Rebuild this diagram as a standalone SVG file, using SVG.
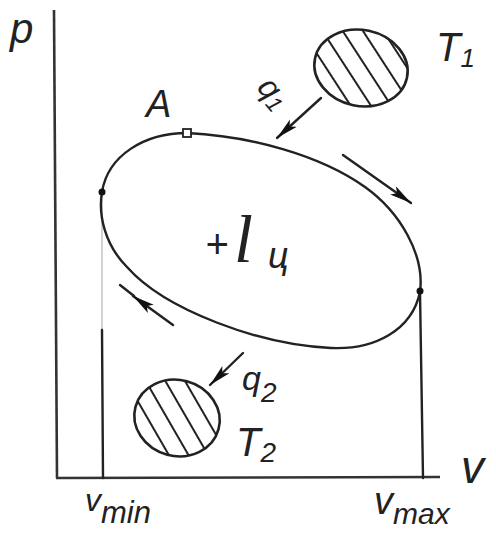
<svg xmlns="http://www.w3.org/2000/svg" width="496" height="535" viewBox="0 0 496 535">
<style>
.ln{fill:none;stroke:#222;stroke-width:2.4;stroke-linecap:round}
.ax{fill:none;stroke:#333;stroke-width:2.6}
.t{font-family:"Liberation Sans",sans-serif;font-style:italic;fill:#222}
.res{fill:url(#hatch);stroke:#222;stroke-width:2.6}
.dot{fill:#111}
</style>
<defs>
<pattern id="hatch" patternUnits="userSpaceOnUse" width="17" height="17" patternTransform="rotate(-45)">
<line x1="8" y1="0" x2="8" y2="17" stroke="#222" stroke-width="2"/>
</pattern>
<marker id="ah" markerUnits="userSpaceOnUse" markerWidth="24" markerHeight="12" refX="22" refY="5" orient="auto">
<path d="M0,0 L22,5 L0,10 L5,5 z" fill="#111"/>
</marker>
</defs>
<rect width="496" height="535" fill="#fff"/>

<g id="axes">
<line class="ax" x1="54" y1="10" x2="57" y2="478"/>
<line class="ax" x1="56" y1="478" x2="440" y2="477"/>
<text class="t" x="10" y="43" font-size="42">p</text>
<text class="t" x="461" y="483" font-size="46">v</text>
</g>

<g id="vmin">
<line x1="102" y1="196" x2="102" y2="330" stroke="#222" stroke-opacity="0.2" stroke-width="2"/>
<line class="ln" x1="102" y1="330" x2="103" y2="478"/>
<text class="t" x="85" y="511" font-size="32">v<tspan font-size="31" dy="12">min</tspan></text>
</g>

<g id="vmax">
<line class="ln" x1="420" y1="292" x2="423" y2="478"/>
<text class="t" x="374" y="514" font-size="38">v<tspan font-size="30" dy="10">max</tspan></text>
</g>

<g id="cycle">
<path class="ln" d="M187,133 C250,136 320,155 365,187 C400,212 425,255 420,292 C412,330 375,350 331,348 C260,345 165,310 127,267 C105,245 98,215 102,192 C108,155 145,133 187,133 Z"/>
<circle class="dot" cx="102" cy="192" r="3.5"/>
<circle class="dot" cx="420" cy="291" r="3.5"/>
<rect x="183" y="129" width="8" height="8" fill="#fff" stroke="#222" stroke-width="1.8"/>
<text class="t" x="146" y="117" font-size="38">A</text>
<text class="t" x="205" y="258" font-size="40">+</text>
<text x="234" y="262" font-family="Liberation Serif,serif" font-style="italic" font-size="68" fill="#222">l</text>
<text class="t" x="268" y="268" font-size="36">ц</text>
</g>

<g id="T1">
<ellipse class="res" cx="361" cy="68" rx="47" ry="38" transform="rotate(12 361 68)"/>
<text class="t" x="436" y="61" font-size="40">T<tspan font-size="26" dy="6">1</tspan></text>
</g>

<g id="T2">
<ellipse class="res" cx="177" cy="418" rx="43" ry="38" transform="rotate(15 177 418)"/>
<text class="t" x="236" y="456" font-size="40">T<tspan font-size="28" dy="6">2</tspan></text>
</g>

<g id="q-labels">
<text class="t" x="0" y="0" font-size="32" transform="translate(256,88) rotate(50)">q<tspan font-size="22" dy="4">1</tspan></text>
<text class="t" x="242" y="390" font-size="34">q<tspan font-size="28" dy="12">2</tspan></text>
</g>

<g id="connectors">
<line class="ln" x1="321" y1="98" x2="277" y2="138" marker-end="url(#ah)"/>
<line class="ln" x1="243" y1="353" x2="210" y2="385" marker-end="url(#ah)"/>
<line class="ln" x1="343" y1="155" x2="411" y2="203" marker-end="url(#ah)"/>
<line class="ln" x1="173" y1="325" x2="133" y2="296" marker-end="url(#ah)"/>
<line class="ln" x1="134" y1="296" x2="120" y2="285"/>
</g>
</svg>
